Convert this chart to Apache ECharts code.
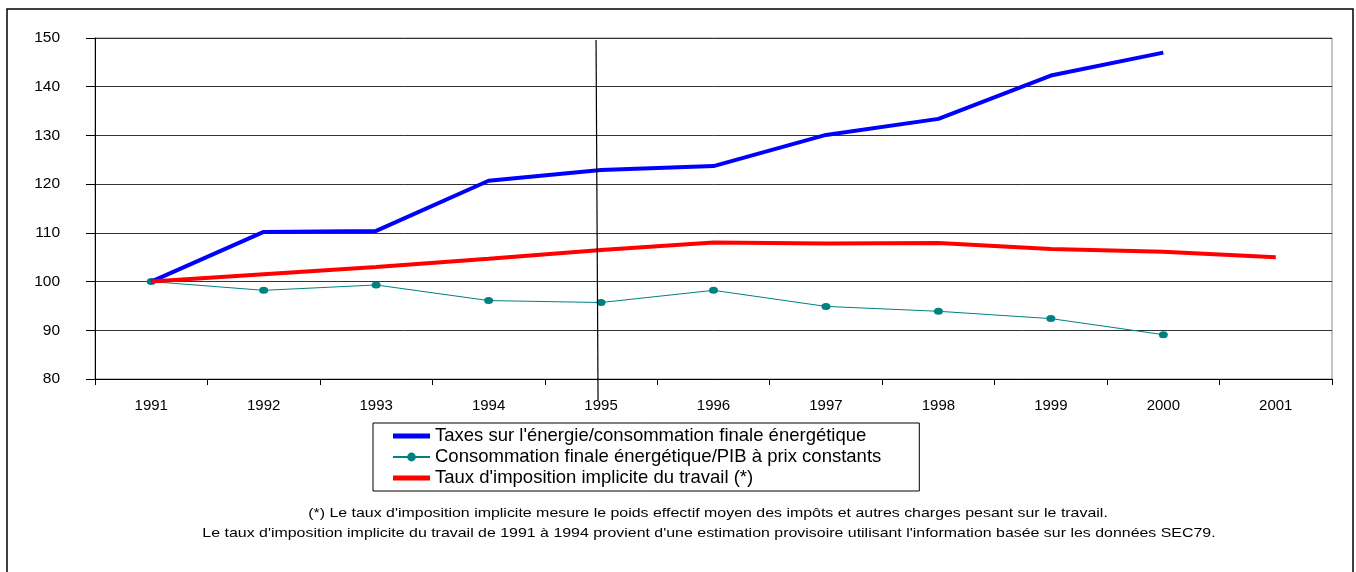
<!DOCTYPE html>
<html>
<head>
<meta charset="utf-8">
<script src="https://cdn.jsdelivr.net/npm/echarts@6/dist/echarts.min.js"></script>
<style>
  html, body { margin: 0; padding: 0; background: #fff; }
  #chart { width: 1356px; height: 572px; }
</style>
</head>
<body>
<div id="chart"></div>
<script>
// années (axe des catégories)
const years = ["1991", "1992", "1993", "1994", "1995", "1996", "1997", "1998", "1999", "2000", "2001"];
// indices (1991 = 100)
const taxesEnergie = [100, 110.2, 110.4, 120.7, 122.9, 123.7, 130.1, 133.4, 142.3, 147.0, null];
const consoPib = [100, 98.2, 99.3, 96.1, 95.7, 98.2, 94.9, 93.9, 92.4, 89.1, null];
const tauxTravail = [100, 101.5, 103.0, 104.7, 106.5, 108.0, 107.8, 107.9, 106.7, 106.1, 105.0];
const markYear = "1995";

const nomTaxes = "Taxes sur l'énergie/consommation finale énergétique";
const nomConso = "Consommation finale énergétique/PIB à prix constants";
const nomTaux = "Taux d'imposition implicite du travail (*)";

const font = "'Liberation Sans', Arial, sans-serif";
const barIcon = "path://M0,0 L36,0 L36,5 L0,5 Z";
const chart = echarts.init(document.getElementById("chart"));

const option = {
  animation: false,
  backgroundColor: "#fff",
  textStyle: { fontFamily: font },
  grid: {
    left: 95, right: 24, top: 38, bottom: 193,
    show: true, borderColor: "#888", borderWidth: 1
  },
  legend: {
    orient: "vertical",
    left: 373, top: 423,
    padding: [3, 38, 3, 19],
    itemGap: 1,
    itemWidth: 37, itemHeight: 11,
    borderColor: "#000", borderWidth: 1, borderRadius: 0,
    textStyle: { fontFamily: font, fontSize: 18.5, lineHeight: 20, color: "#000" },
    data: [
      { name: nomTaxes, icon: barIcon },
      { name: nomConso },
      { name: nomTaux, icon: barIcon }
    ]
  },
  xAxis: {
    type: "category",
    data: years,
    boundaryGap: true,
    axisLine: { lineStyle: { color: "#000", width: 1 } },
    axisTick: { show: true, length: 6, inside: false, lineStyle: { color: "#000" } },
    axisLabel: { color: "#000", fontSize: 15, margin: 19, fontFamily: font },
    splitLine: { show: false }
  },
  yAxis: {
    type: "value",
    min: 80, max: 150, interval: 10,
    axisLine: { show: true, lineStyle: { color: "#000", width: 1 } },
    axisTick: { show: true, length: 9, lineStyle: { color: "#000" } },
    axisLabel: { color: "#000", fontSize: 15.5, margin: 35, fontFamily: font },
    splitLine: { show: true, lineStyle: { color: "#333", width: 1 } }
  },
  series: [
    {
      name: nomTaxes,
      type: "line",
      data: taxesEnergie,
      symbol: "none",
      color: "#0000ff",
      lineStyle: { color: "#0000ff", width: 4 },
      z: 4
    },
    {
      name: nomConso,
      type: "line",
      data: consoPib,
      symbol: "circle",
      symbolSize: [9, 7],
      color: "#008080",
      itemStyle: { color: "#008080" },
      lineStyle: { color: "#008080", width: 1 },
      z: 3
    },
    {
      name: nomTaux,
      type: "line",
      data: tauxTravail,
      symbol: "none",
      color: "#ff0000",
      lineStyle: { color: "#ff0000", width: 4 },
      z: 5
    }
  ]
};
chart.setOption(option);

// trait vertical sur 1995, cadre extérieur et notes de bas de page
const xMark = chart.convertToPixel({ xAxisIndex: 0 }, markYear);
const yTop = chart.convertToPixel({ yAxisIndex: 0 }, 150);
const yBottom = chart.convertToPixel({ yAxisIndex: 0 }, 80);
chart.setOption({
  graphic: [
    {
      type: "rect",
      shape: { x: 7, y: 9, width: 1346, height: 600 },
      style: { fill: null, stroke: "#000", lineWidth: 1.5 },
      silent: true
    },
    {
      type: "line",
      shape: { x1: xMark - 5, y1: yTop + 2, x2: xMark - 3, y2: yBottom + 21 },
      style: { stroke: "#000", lineWidth: 1.2 },
      z: 10
    },
    {
      type: "text",
      x: 708, y: 513, scaleX: 1.18,
      style: {
        text: "(*) Le taux d'imposition implicite mesure le poids effectif moyen des impôts et autres charges pesant sur le travail.",
        font: "13.5px " + font, fill: "#000", align: "center", verticalAlign: "middle"
      }
    },
    {
      type: "text",
      x: 709, y: 533, scaleX: 1.18,
      style: {
        text: "Le taux d'imposition implicite du travail de 1991 à 1994 provient d'une estimation provisoire utilisant l'information basée sur les données SEC79.",
        font: "13.5px " + font, fill: "#000", align: "center", verticalAlign: "middle"
      }
    }
  ]
});
</script>
</body>
</html>
